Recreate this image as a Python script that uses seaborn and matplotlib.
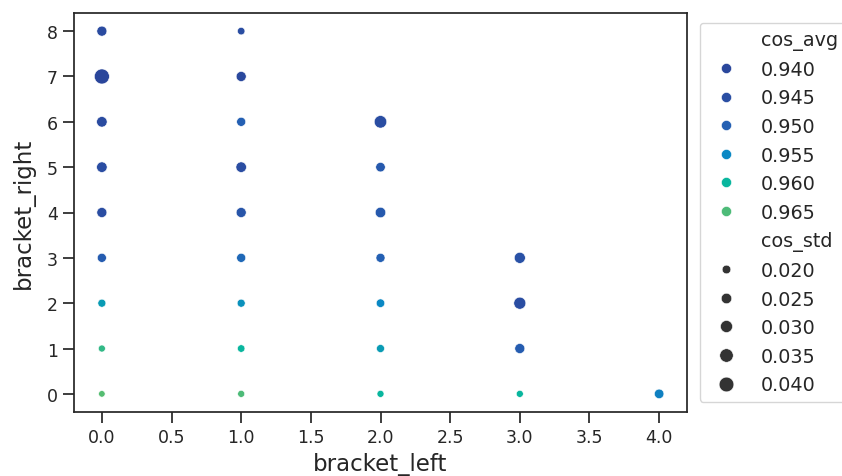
import numpy as np
import pandas as pd
import seaborn as sns
import matplotlib
matplotlib.use("Agg")
import matplotlib.pyplot as plt
from matplotlib.colors import LinearSegmentedColormap

# ---- data ----
bracket_left = [0, 0, 0, 0, 0, 0, 0, 0, 0,
                1, 1, 1, 1, 1, 1, 1, 1, 1,
                2, 2, 2, 2, 2, 2, 2,
                3, 3, 3, 3,
                4]
bracket_right = [8, 7, 6, 5, 4, 3, 2, 1, 0,
                 8, 7, 6, 5, 4, 3, 2, 1, 0,
                 6, 5, 4, 3, 2, 1, 0,
                 3, 2, 1, 0,
                 0]
cos_avg = [0.943, 0.9395, 0.943, 0.944, 0.944, 0.949, 0.957, 0.963, 0.966,
           0.944, 0.941, 0.950, 0.944, 0.947, 0.951, 0.956, 0.960, 0.965,
           0.944, 0.948, 0.948, 0.950, 0.955, 0.957, 0.960,
           0.946, 0.944, 0.949, 0.960,
           0.954]
cos_std = [0.0236, 0.0412, 0.0250, 0.0250, 0.0236, 0.0210, 0.0185, 0.0164, 0.0155,
           0.0174, 0.0236, 0.0210, 0.0250, 0.0236, 0.0210, 0.0185, 0.0174, 0.0164,
           0.0315, 0.0222, 0.0250, 0.0210, 0.0197, 0.0185, 0.0164,
           0.0266, 0.0298, 0.0236, 0.0164,
           0.0222]

df = pd.DataFrame({"bracket_left": bracket_left,
                   "bracket_right": bracket_right,
                   "cos_avg": cos_avg,
                   "cos_std": cos_std})

cmap = LinearSegmentedColormap.from_list("custom", [
    (0.0, "#2a469b"),
    (0.2075, "#2a4ea3"),
    (0.396, "#2460b3"),
    (0.585, "#0a88c4"),
    (0.774, "#08b69e"),
    (0.962, "#4cbb78"),
    (1.0, "#55bd72"),
])

sns.set_theme(context="notebook", style="ticks", font_scale=1.1)
plt.rcParams["xtick.labelsize"] = 12.5
plt.rcParams["ytick.labelsize"] = 12.5
plt.rcParams["xtick.major.size"] = 8
plt.rcParams["ytick.major.size"] = 8
plt.rcParams["axes.labelsize"] = 16.5
plt.rcParams["legend.fontsize"] = 13.8

fig = plt.figure(figsize=(8.42, 4.77), dpi=100)
ax = fig.add_axes([74 / 842, 1 - 413 / 477, (687 - 74) / 842, (413 - 14) / 477])

sns.scatterplot(data=df, x="bracket_left", y="bracket_right",
                hue="cos_avg", size="cos_std", palette=cmap,
                sizes=(22, 117), ax=ax)

ax.set_xlabel("bracket_left", labelpad=4.5)
ax.set_ylabel("bracket_right", labelpad=9)

sns.move_legend(ax, "upper left", bbox_to_anchor=(1.005, 1))
leg = ax.get_legend()
for h in leg.legend_handles[1:7]:
    h.set_markersize(7.3)

fig.savefig("out.png", dpi=100)
